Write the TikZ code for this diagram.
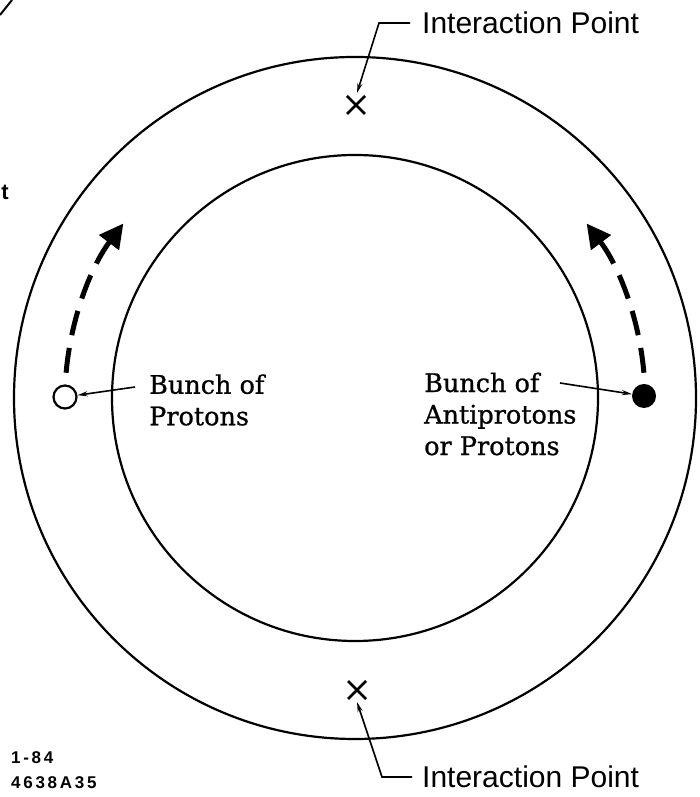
\documentclass[tikz,border=0pt]{standalone}
\usepackage{fontspec}
\newfontfamily\lsans{Liberation Sans}
\newfontfamily\bserif[FakeBold=0.8]{DejaVu Serif}
\newfontfamily\codefont[LetterSpace=16]{Liberation Sans Bold}
\usetikzlibrary{arrows.meta}
\begin{document}
\begin{tikzpicture}[x=1pt,y=1pt,
  ring/.style={line width=2.2pt},
  lead/.style={line width=1.6pt,-{Stealth[length=10pt,width=5pt]}},
  flow/.style={line width=5pt, dash pattern=on 25pt off 13pt, -{Triangle[length=24pt,width=24pt]}},
  iptext/.style={font=\lsans\fontsize{30}{34}\selectfont, anchor=west, inner sep=0pt},
  btext/.style={font=\bserif\fontsize{25.5}{31.5}\selectfont, align=left, anchor=west, inner sep=0pt},
  codetext/.style={font=\codefont\fontsize{17}{18}\selectfont, anchor=west, inner sep=0pt},
  xmark/.style={line width=2.8pt},
]
\useasboundingbox (0,0) rectangle (699,797);
\coordinate (c) at (355,399);
% rings
\draw[ring] (c) circle (341pt);
\draw[ring] (c) circle (243pt);
% interaction points
\coordinate (ipt) at (356,692);
\coordinate (ipb) at (357,107);
\draw[xmark] ([shift={(-9,-9)}]ipt) -- ([shift={(9,9)}]ipt);
\draw[xmark] ([shift={(-9,9)}]ipt) -- ([shift={(9,-9)}]ipt);
\draw[xmark] ([shift={(-9,-9)}]ipb) -- ([shift={(9,9)}]ipb);
\draw[xmark] ([shift={(-9,9)}]ipb) -- ([shift={(9,-9)}]ipb);
\coordinate (iptip) at (357,704);
\coordinate (ipbtip) at (357,95);
\node[iptext] (iplabt) at (422,774) {Interaction Point};
\node[iptext] (iplabb) at (422,20) {Interaction Point};
\draw[lead] ([xshift=-12pt]iplabt.west) -- ++(-31,0) -- (iptip);
\draw[lead] ([xshift=-10pt]iplabb.west) -- ++(-30,0) -- (ipbtip);
% bunches
\node[circle, draw, line width=2.2pt, minimum size=23pt, inner sep=0pt] (pb) at (65,400) {};
\node[circle, fill, minimum size=24pt, inner sep=0pt] (ab) at (644,401) {};
\node[btext] (ptxt) at (149,397) {Bunch of\\Protons};
\node[btext] (atxt) at (424,383) {Bunch of\\Antiprotons\\or Protons};
\coordinate (pl) at (135,410);
\coordinate (al) at (560,414);
\draw[lead] (pl) -- (pb);
\draw[lead] (al) -- (ab);
% motion arrows
\draw[flow] ([shift={(175:290pt)}]c) arc (175:143:290pt);
\draw[flow] ([shift={(5:290pt)}]c) arc (5:37:290pt);
% margin fragments
\draw[line width=2pt] (0,782) -- (12,797);
\node[font=\lsans\bfseries\fontsize{22}{22}\selectfont, inner sep=0pt] (tt) at (5,605) {t};
\node[codetext] (c1) at (11,39) {1-84};
\node[codetext] (c2) at (11,14) {4638A35};
\end{tikzpicture}
\end{document}
